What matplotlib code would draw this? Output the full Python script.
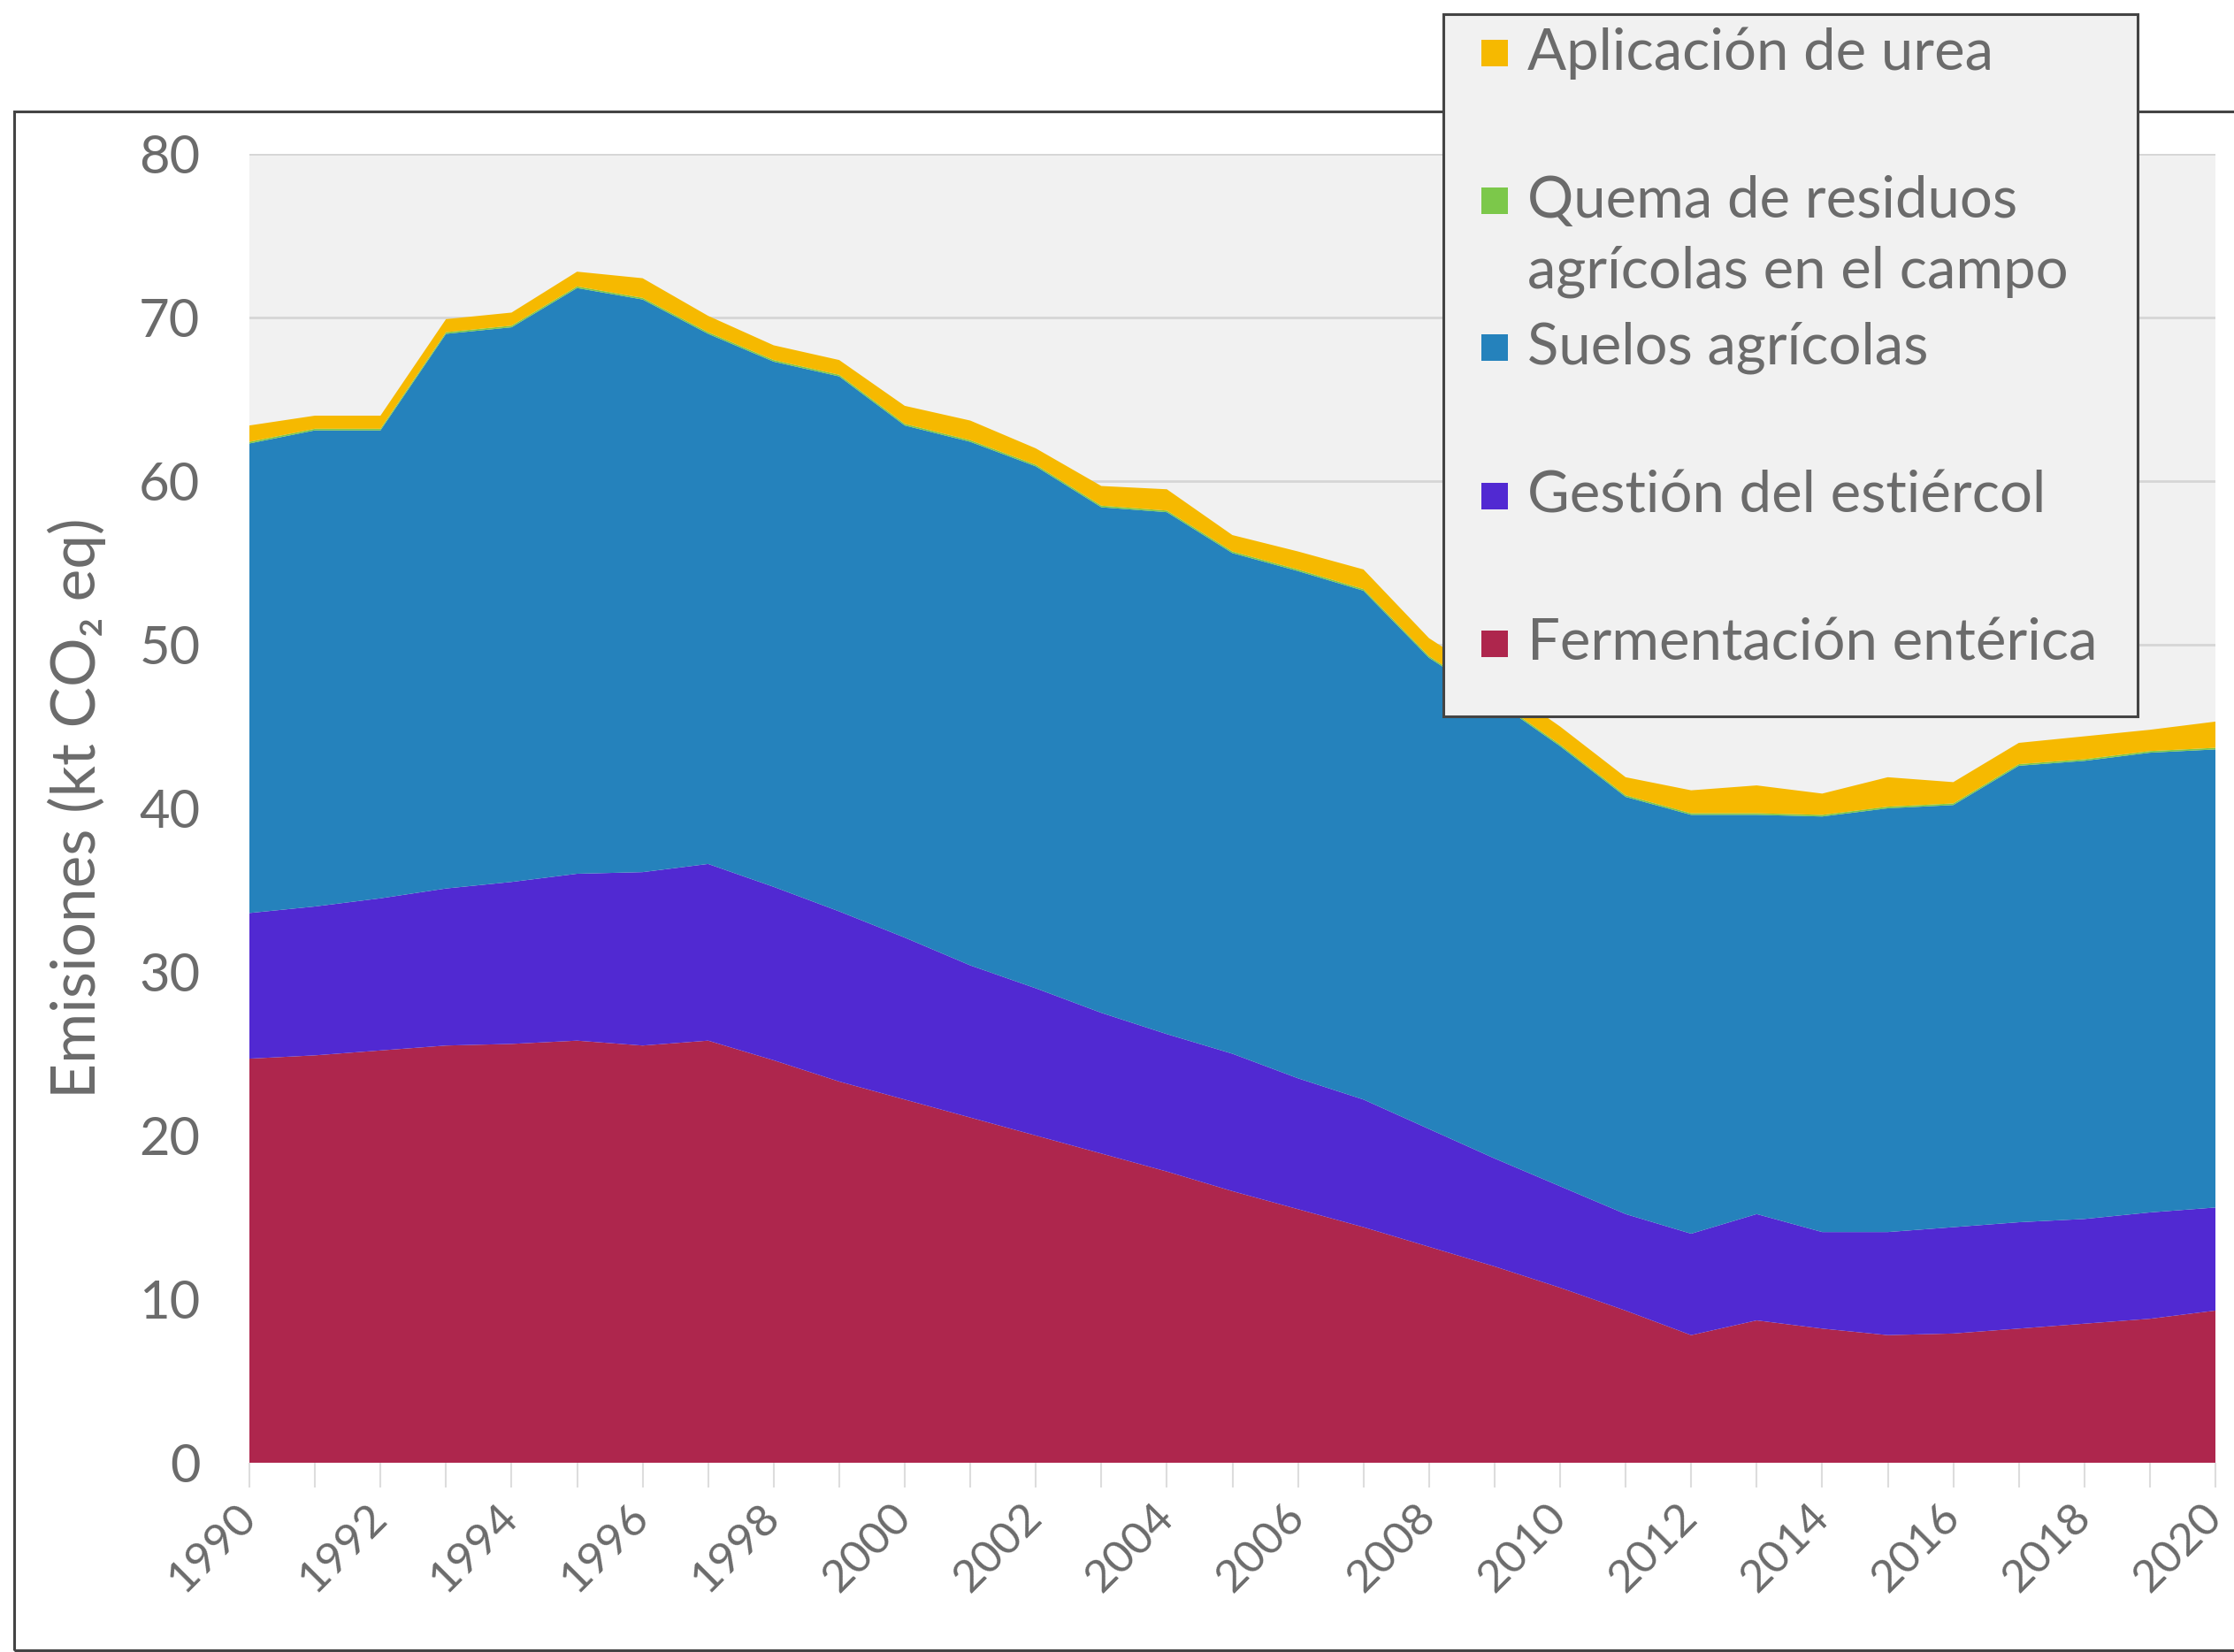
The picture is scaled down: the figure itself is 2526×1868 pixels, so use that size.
import numpy as np
import matplotlib
matplotlib.use("Agg")
import matplotlib.pyplot as plt
from matplotlib.patches import Rectangle

plt.rcParams['font.family'] = ['Lato', 'Noto Sans', 'DejaVu Sans']

years = list(range(1990, 2021))

# kt CO2 eq
fermentacion = [24.7, 24.9, 25.2, 25.5, 25.6, 25.8, 25.5, 25.8, 24.6, 23.3,
                22.2, 21.1, 20.0, 18.9, 17.8, 16.6, 15.5, 14.4, 13.2, 12.0,
                10.7, 9.3, 7.8, 8.7, 8.2, 7.8, 7.9, 8.2, 8.5, 8.8, 9.3]
gestion = [8.9, 9.1, 9.3, 9.6, 9.9, 10.2, 10.6, 10.8, 10.6, 10.4,
           9.9, 9.3, 9.0, 8.6, 8.4, 8.4, 8.0, 7.8, 7.2, 6.6,
           6.2, 5.9, 6.2, 6.5, 5.9, 6.3, 6.5, 6.5, 6.4, 6.5, 6.3]
suelos = [28.7, 29.1, 28.6, 33.9, 33.9, 35.8, 35.0, 32.4, 32.1, 32.7,
          31.3, 32.0, 31.9, 30.9, 31.9, 30.6, 31.0, 31.1, 28.8, 28.0,
          26.9, 25.5, 25.6, 24.4, 25.4, 25.9, 25.8, 27.9, 28.0, 28.1, 28.0]
quema = [0.1] * 31
urea = [1.0, 0.8, 0.8, 0.8, 0.8, 0.9, 1.2, 1.0, 0.9, 0.9,
        1.1, 1.2, 1.0, 1.2, 1.3, 1.0, 1.1, 1.2, 1.1, 1.1,
        1.1, 1.1, 1.4, 1.7, 1.3, 1.8, 1.3, 1.3, 1.4, 1.3, 1.6]

labels = ['Fermentación entérica', 'Gestión del estiércol', 'Suelos agrícolas',
          'Quema de residuos\nagrícolas en el campo', 'Aplicación de urea']
colors = ['#ae264d', '#5129d2', '#2582bc', '#7cc84a', '#f6b900']

W, H = 2526, 1868
fig = plt.figure(figsize=(W / 100, H / 100), dpi=100)
fig.patch.set_facecolor('white')

# axes box in pixels: x 282..2505, y 174..1654 (from top)
ax = fig.add_axes([282 / W, 1 - 1654 / H, (2505 - 282) / W, (1654 - 174) / H])
ax.set_facecolor('#f1f1f1')
ax.stackplot(years, fermentacion, gestion, suelos, quema, urea,
             colors=colors, linewidth=0)

ax.set_xlim(1990, 2020)
ax.set_ylim(0, 80)
ax.set_yticks(range(0, 81, 10))
ax.set_xticks(range(1990, 2021, 2))
ax.set_xticks(range(1990, 2021), minor=True)
ax.grid(axis='y', color='#d6d6d6', linewidth=2)
ax.set_axisbelow(True)
for s in ax.spines.values():
    s.set_visible(False)

txt = '#6b6b6b'
ax.tick_params(axis='y', length=0, pad=40, labelsize=43, labelcolor=txt)
ax.tick_params(axis='x', which='both', length=20, width=1.5, color='#dddddd',
               labelsize=37, labelcolor=txt, pad=19)
for lab in ax.get_xticklabels():
    lab.set_rotation(45)
    lab.set_ha('right')
    lab.set_va('center')
    lab.set_rotation_mode('anchor')

ax.set_ylabel('Emisiones (kt CO₂ eq)', fontsize=50, color=txt)
ax.yaxis.set_label_coords(-0.073, 0.5)

# outer frame
fig.add_artist(Rectangle((16 / W, 2 / H), 1.2, (1866 - 126) / H,
                         transform=fig.transFigure, fill=False,
                         edgecolor='#444444', linewidth=2.2))

# legend box drawn by hand (square aligned with first line of each entry)
lx0, lx1, ly0, ly1 = 1632, 2417, 16, 810
fig.add_artist(Rectangle((lx0 / W, 1 - ly1 / H), (lx1 - lx0) / W, (ly1 - ly0) / H,
                         transform=fig.transFigure, facecolor='#f1f1f1',
                         edgecolor='#444444', linewidth=2.2, zorder=5))
rows = [60, 227, 393, 561, 728]
for yc, lab, col in zip(rows, labels[::-1], colors[::-1]):
    fig.add_artist(Rectangle((1675 / W, 1 - (yc + 15) / H), 30 / W, 30 / H,
                             transform=fig.transFigure, facecolor=col,
                             edgecolor='none', zorder=6))
    for k, line in enumerate(lab.split('\n')):
        fig.text(1727 / W, 1 - (yc + 80 * k) / H, line, fontsize=47,
                 color=txt, va='center', ha='left', zorder=6)

fig.savefig('out.png', dpi=100)
